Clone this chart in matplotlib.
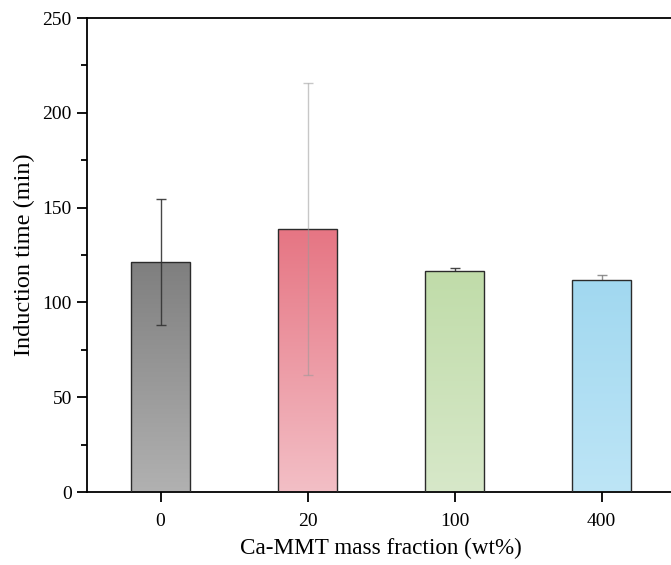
import numpy as np
import matplotlib
matplotlib.use("Agg")
import matplotlib.pyplot as plt
from matplotlib.colors import LinearSegmentedColormap
from matplotlib.ticker import MultipleLocator

plt.rcParams['font.family'] = ['Liberation Serif', 'DejaVu Serif']

# induction time per Ca-MMT loading
labels = ['0', '20', '100', '400']
means = [121.3, 138.8, 116.8, 112.0]
errs = [33.3, 77.0, 1.4, 2.7]

# gradient colours (top, bottom) and error bar colour for each bar
top_colors = ['#7f7f7f', '#e67583', '#c0dca9', '#a1d8f0']
bottom_colors = ['#b1b1b1', '#f3bfc6', '#d7e8c9', '#bde5f6']
err_colors = ['#333333', '#999999', '#333333', '#777777']
err_alpha = [0.9, 0.55, 0.9, 0.8]
err_z = [4, 4, 1, 1]

fig = plt.figure(figsize=(6.71, 5.65), dpi=100)
ax = fig.add_axes([0.1297, 0.1292, 0.8763, 0.8389])

x = np.arange(len(labels))
width = 0.4
bars = ax.bar(x, means, width, color='none', edgecolor='#2b2b2b',
              linewidth=1.0, zorder=3)

grad = np.linspace(0, 1, 256).reshape(-1, 1)
for b, ct, cb in zip(bars, top_colors, bottom_colors):
    cmap = LinearSegmentedColormap.from_list('g', [cb, ct])
    x0, y0 = b.get_x(), b.get_y()
    im = ax.imshow(grad, cmap=cmap, origin='lower', aspect='auto',
                   extent=[x0, x0 + b.get_width(), y0, y0 + b.get_height()],
                   zorder=2)
    im.set_clip_path(b)

for xi, m, e, c, a, z in zip(x, means, errs, err_colors, err_alpha, err_z):
    ax.errorbar(xi, m, yerr=e, fmt='none', ecolor=c, alpha=a,
                elinewidth=1.0, capsize=3.3, capthick=1.0, zorder=z)

ax.set_xlim(-0.5, 3.5)
ax.set_ylim(0, 250)
ax.set_xticks(x)
ax.set_xticklabels(labels)
ax.yaxis.set_major_locator(MultipleLocator(50))
ax.yaxis.set_minor_locator(MultipleLocator(25))

for s in ['left', 'bottom', 'top', 'right']:
    ax.spines[s].set_linewidth(1.3)
ax.tick_params(axis='both', which='major', direction='out', length=7,
               width=1.3, labelsize=14, pad=4)
ax.tick_params(axis='y', which='minor', direction='out', length=4, width=1.3)
ax.tick_params(axis='x', which='major', pad=8)

ax.set_xlabel('Ca-MMT mass fraction (wt%)', fontsize=16.7, labelpad=6)
ax.set_ylabel('Induction time (min)', fontsize=17.5, labelpad=5)

fig.savefig('out.png', dpi=100)
